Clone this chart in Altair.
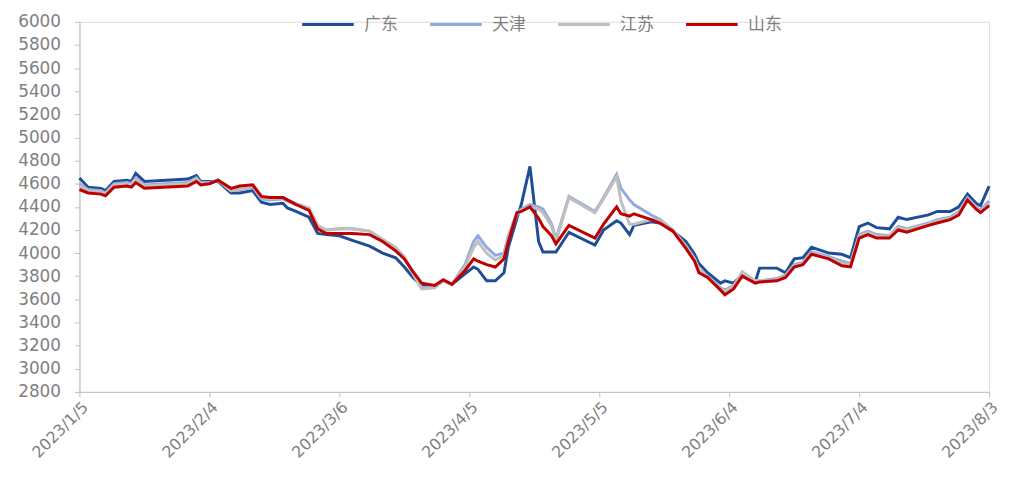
import altair as alt
import pandas as pd

dates = ["2023-01-05","2023-01-07","2023-01-10","2023-01-11","2023-01-13","2023-01-16","2023-01-17","2023-01-18","2023-01-20","2023-01-30",
         "2023-02-01","2023-02-02","2023-02-04","2023-02-06","2023-02-09","2023-02-11","2023-02-14","2023-02-16","2023-02-18","2023-02-21",
         "2023-02-22","2023-02-24","2023-02-27","2023-03-01","2023-03-03","2023-03-06","2023-03-09","2023-03-13","2023-03-16","2023-03-19",
         "2023-03-21","2023-03-23","2023-03-25","2023-03-28","2023-03-30","2023-04-01","2023-04-04","2023-04-06","2023-04-07","2023-04-09",
         "2023-04-11","2023-04-13","2023-04-14","2023-04-16","2023-04-17","2023-04-19","2023-04-21","2023-04-22","2023-04-24","2023-04-25",
         "2023-04-28","2023-05-04","2023-05-06","2023-05-09","2023-05-10","2023-05-12","2023-05-13","2023-05-17","2023-05-19","2023-05-22",
         "2023-05-25","2023-05-27","2023-05-28","2023-05-30","2023-06-02","2023-06-03","2023-06-05","2023-06-07","2023-06-10","2023-06-11",
         "2023-06-15","2023-06-17","2023-06-19","2023-06-21","2023-06-23","2023-06-27","2023-06-30","2023-07-02","2023-07-04","2023-07-06",
         "2023-07-08","2023-07-11","2023-07-13","2023-07-15","2023-07-20","2023-07-22","2023-07-25","2023-07-27","2023-07-29","2023-07-31",
         "2023-08-01","2023-08-03"]

guangdong = [4650,4570,4560,4540,4620,4630,4620,4690,4620,4640,
             4670,4620,4620,4620,4520,4520,4540,4440,4420,4430,
             4390,4360,4310,4170,4160,4150,4110,4060,4000,3960,
             3880,3790,3720,3720,3760,3730,3820,3880,3860,3760,
             3760,3830,4050,4300,4420,4750,4100,4010,4010,4010,
             4180,4070,4200,4280,4260,4160,4240,4270,4260,4190,
             4100,3990,3910,3830,3740,3760,3740,3810,3750,3870,
             3870,3830,3950,3960,4050,4000,3990,3960,4230,4260,
             4220,4210,4310,4290,4330,4360,4360,4400,4510,4430,
             4410,4580]

tianjin = [4600,4550,4540,4520,4600,4610,4600,4650,4590,4610,
           4650,4610,4610,4630,4540,4550,4570,4470,4460,4470,
           4450,4420,4380,4230,4200,4210,4210,4190,4110,4040,
           3960,3830,3700,3710,3760,3730,3900,4100,4150,4050,
           3980,4000,4150,4350,4380,4420,4400,4380,4250,4120,
           4490,4360,4480,4680,4560,4460,4420,4330,4290,4200,
           4060,3950,3860,3800,3700,3680,3720,3820,3760,3760,
           3780,3810,3900,3920,4010,3970,3930,3910,4160,4190,
           4160,4150,4230,4210,4260,4290,4310,4360,4480,4400,
           4370,4450]

jiangsu = [4580,4540,4530,4510,4590,4600,4590,4640,4580,4600,
           4640,4600,4600,4630,4540,4550,4580,4480,4470,4480,
           4460,4430,4390,4240,4200,4210,4210,4190,4120,4050,
           3970,3820,3690,3700,3760,3730,3880,4050,4100,4000,
           3940,3980,4150,4330,4370,4400,4380,4350,4230,4100,
           4480,4350,4470,4660,4450,4250,4250,4290,4280,4200,
           4060,3950,3860,3790,3690,3670,3710,3840,3760,3760,
           3770,3800,3890,3910,4000,3960,3910,3900,4150,4180,
           4150,4140,4220,4200,4250,4280,4300,4350,4470,4390,
           4360,4430]

shandong = [4550,4520,4510,4495,4570,4580,4570,4610,4560,4580,
            4620,4590,4600,4630,4560,4580,4590,4490,4480,4480,
            4460,4420,4370,4210,4170,4170,4170,4160,4100,4020,
            3950,3840,3740,3720,3770,3730,3850,3950,3930,3900,
            3880,3950,4100,4350,4360,4400,4300,4230,4150,4080,
            4240,4130,4250,4400,4340,4320,4340,4290,4260,4190,
            4040,3930,3830,3790,3680,3640,3690,3800,3740,3750,
            3760,3790,3880,3900,3990,3950,3890,3880,4130,4160,
            4130,4130,4200,4180,4240,4260,4290,4330,4460,4380,
            4350,4410]

series_names = ["广东", "天津", "江苏", "山东"]
series_colors = ["#1F4E96", "#8FAADC", "#BFBFBF", "#C00000"]
y_ticks = list(range(2800, 6001, 200))
x_tick_dates = ["2023-01-05", "2023-02-04", "2023-03-06", "2023-04-05",
                "2023-05-05", "2023-06-04", "2023-07-04", "2023-08-03"]

rows = []
for name, vals in zip(series_names, [guangdong, tianjin, jiangsu, shandong]):
    for d, v in zip(dates, vals):
        rows.append({"date": d + "T00:00:00", "series": name, "value": v})
df = pd.DataFrame(rows)


def to_dt(s):
    y, m, d = s.split("-")
    return alt.DateTime(year=int(y), month=int(m), date=int(d))


x_values = [to_dt(s) for s in x_tick_dates]

color = alt.Color(
    "series:N",
    scale=alt.Scale(domain=series_names, range=series_colors),
    legend=alt.Legend(
        title=None, orient="none", legendX=223, legendY=-25,
        direction="horizontal", columns=4, padding=0,
        symbolType="stroke", symbolSize=2700, symbolStrokeWidth=3,
        labelFont="Noto Sans CJK SC", labelFontSize=17, labelColor="#7F7F7F",
        labelOffset=9, columnPadding=26,
    ),
)

base = alt.Chart(df).mark_line(strokeWidth=3).encode(
    x=alt.X(
        "date:T",
        title=None,
        scale=alt.Scale(domain=[x_values[0], x_values[-1]]),
        axis=alt.Axis(
            values=x_values, format="%Y/%-m/%-d", labelAngle=-45,
            labelFont="DejaVu Sans", labelFontSize=16, labelColor="#7F7F7F",
            domainColor="#BFBFBF", tickColor="#BFBFBF", tickSize=5,
            labelPadding=2, grid=False, labelOverlap=False,
        ),
    ),
    y=alt.Y(
        "value:Q",
        title=None,
        scale=alt.Scale(domain=[2800, 6000], nice=False, zero=False),
        axis=alt.Axis(
            values=y_ticks, format="d", labelFont="DejaVu Sans", labelFontSize=17,
            labelColor="#7F7F7F", domainColor="#BFBFBF", tickColor="#BFBFBF",
            tickSize=5, labelPadding=14, grid=False, labelOverlap=False,
        ),
    ),
    color=color,
)

layers = [base.transform_filter(alt.datum.series == n) for n in series_names]

chart = alt.layer(*layers).properties(
    width=917,
    height=373,
    autosize=alt.AutoSizeParams(type="none"),
    padding={"left": 72, "top": 12, "right": 19, "bottom": 100},
).configure_view(stroke=None).configure(background="white")

chart.save("out.html", embed_options={"renderer": "svg", "actions": False})
